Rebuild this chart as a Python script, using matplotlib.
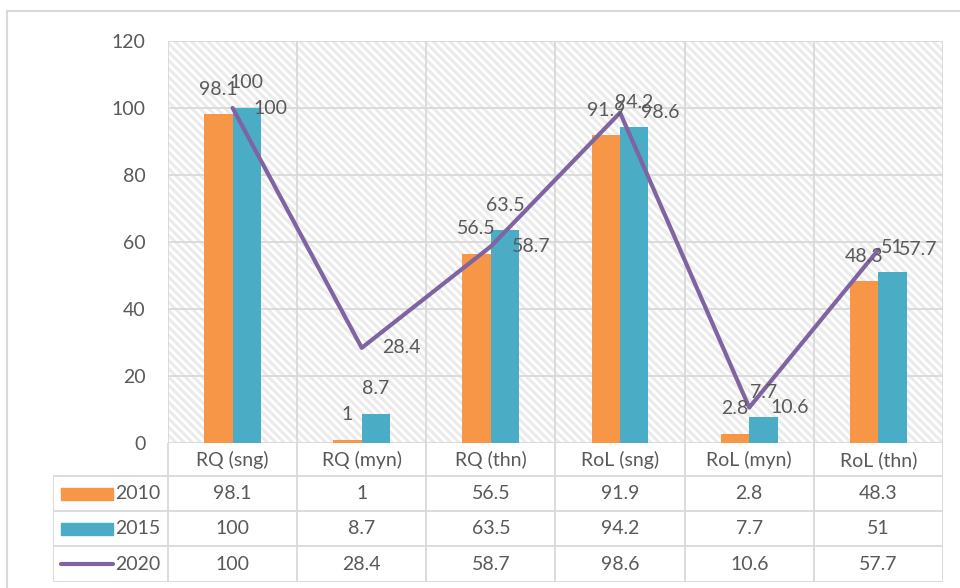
import matplotlib.pyplot as plt
from matplotlib.patches import Rectangle
from matplotlib.lines import Line2D
from matplotlib.transforms import blended_transform_factory
import numpy as np

categories = ['RQ (sng)', 'RQ (myn)', 'RQ (thn)', 'RoL (sng)', 'RoL (myn)', 'RoL (thn)']
series_names = ['2010', '2015', '2020']
v2010 = [98.1, 1, 56.5, 91.9, 2.8, 48.3]
v2015 = [100, 8.7, 63.5, 94.2, 7.7, 51]
v2020 = [100, 28.4, 58.7, 98.6, 10.6, 57.7]
yticks = [0, 20, 40, 60, 80, 100, 120]

c_orange = '#F79646'
c_teal = '#4BACC6'
c_purple = '#8064A2'
c_grid = '#D9D9D9'
c_text = '#595959'

plt.rcParams['font.family'] = ['Lato', 'DejaVu Sans']
plt.rcParams['hatch.linewidth'] = 2.2

W, H = 960, 588
fig = plt.figure(figsize=(9.6, 5.88), dpi=100)


def box(x0, y0, x1, y1):
    # pixel box (origin top-left) -> figure fraction rect
    return [x0 / W, 1 - y1 / H, (x1 - x0) / W, (y1 - y0) / H]


# outer chart border
fig.patches.append(Rectangle((7 / W, -0.1), 1.2, 1 - 11 / H + 0.1, transform=fig.transFigure,
                             fill=False, edgecolor=c_grid, lw=1.5))

ax = fig.add_axes(box(168, 41, 943, 443))
n = len(categories)
x = np.arange(n)
bw = 0.22
ax.set_xlim(-0.5, n - 0.5)
ax.set_ylim(0, 120)
ax.add_patch(Rectangle((0, 0), 1, 1, transform=ax.transAxes, facecolor='white',
                       edgecolor='#EBEBEB', hatch='\\\\\\\\', lw=0, zorder=0))
for yv in yticks:
    ax.axhline(yv, color=c_grid, lw=1.3, zorder=1)
for xv in np.arange(-0.5, n, 1.0):
    ax.axvline(xv, color=c_grid, lw=1.3, zorder=1)
for s in ax.spines.values():
    s.set_visible(False)

ax.bar(x - bw / 2, v2010, bw, color=c_orange, zorder=2)
ax.bar(x + bw / 2, v2015, bw, color=c_teal, zorder=2)
ax.plot(x, v2020, color=c_purple, lw=3, zorder=3, solid_capstyle='round')

for i in range(n):
    ax.annotate(f'{v2010[i]:g}', (x[i] - bw / 2, v2010[i]), xytext=(0, 18), textcoords='offset points',
                ha='center', va='center', fontsize=14, color=c_text, zorder=4)
    ax.annotate(f'{v2015[i]:g}', (x[i] + bw / 2, v2015[i]), xytext=(0, 18), textcoords='offset points',
                ha='center', va='center', fontsize=14, color=c_text, zorder=4)
    ax.annotate(f'{v2020[i]:g}', (x[i], v2020[i]), xytext=(15, 0), textcoords='offset points',
                ha='left', va='center', fontsize=14, color=c_text, zorder=4)

ax.set_xticks([])
ax.set_yticks(yticks)
ax.tick_params(axis='y', length=0, pad=16, labelsize=14, labelcolor=c_text)

# data table below the plot
tax = fig.add_axes(box(53, 443, 943, 582))
tax.set_xlim(53, 943)
tax.set_ylim(582, 443)
tax.axis('off')
bt = blended_transform_factory(ax.transData, tax.transData)
row_edges = [443, 476.5, 511.5, 546.5, 582]

for ye in row_edges[1:]:
    tax.add_line(Line2D([53, 943], [ye, ye], color=c_grid, lw=1.3))
tax.add_line(Line2D([53, 53], [row_edges[1], row_edges[-1]], color=c_grid, lw=1.3))
for xv in np.arange(-0.5, n, 1.0):
    tax.add_line(Line2D([xv, xv], [row_edges[0], row_edges[-1]], color=c_grid, lw=1.3, transform=bt))

header_y = (row_edges[0] + row_edges[1]) / 2
for i, cat in enumerate(categories):
    tax.text(i, header_y, cat, transform=bt, ha='center', va='center', fontsize=14, color=c_text)

rows = [v2010, v2015, v2020]
for r, (name, vals) in enumerate(zip(series_names, rows)):
    yc = (row_edges[r + 1] + row_edges[r + 2]) / 2
    if r < 2:
        tax.add_patch(Rectangle((61, yc - 6), 52, 12, color=[c_orange, c_teal][r]))
    else:
        tax.add_line(Line2D([61, 113], [yc, yc], color=c_purple, lw=3, solid_capstyle='round'))
    tax.text(160, yc, name, ha='right', va='center', fontsize=14, color=c_text)
    for i, v in enumerate(vals):
        tax.text(i, yc, f'{v:g}', transform=bt, ha='center', va='center', fontsize=14, color=c_text)

fig.savefig('out.png', dpi=100)
